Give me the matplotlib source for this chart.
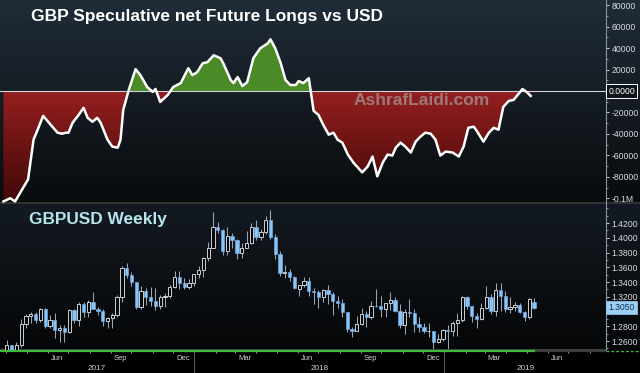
import numpy as np
import pandas as pd
import matplotlib
matplotlib.use('Agg')
import matplotlib.pyplot as plt
import matplotlib.dates as mdates
from matplotlib.path import Path
from matplotlib.colors import LinearSegmentedColormap, to_rgb
from matplotlib.ticker import FuncFormatter, MultipleLocator, FixedLocator

plt.rcParams['font.family'] = ['Liberation Sans', 'DejaVu Sans']

# CFTC GBP net speculative positions (contracts)
cot_dates = ['2017-03-28', '2017-04-07', '2017-04-14', '2017-05-03', '2017-05-11', '2017-05-17', '2017-05-25',
             '2017-06-05', '2017-06-15', '2017-06-22', '2017-06-27', '2017-07-01', '2017-07-07', '2017-07-16',
             '2017-07-23', '2017-07-29', '2017-08-05', '2017-08-12', '2017-08-17', '2017-08-27', '2017-09-03',
             '2017-09-11', '2017-09-15', '2017-09-19', '2017-09-27', '2017-10-07', '2017-10-14', '2017-10-24',
             '2017-11-01', '2017-11-05', '2017-11-12', '2017-11-23', '2017-12-01', '2017-12-12', '2017-12-23',
             '2017-12-29', '2018-01-05', '2018-01-13', '2018-01-20', '2018-01-29', '2018-02-08', '2018-02-12',
             '2018-02-23', '2018-02-27', '2018-03-05', '2018-03-12', '2018-03-19', '2018-03-28', '2018-04-07',
             '2018-04-18', '2018-04-22', '2018-04-29', '2018-05-07', '2018-05-14', '2018-05-21', '2018-05-29',
             '2018-06-02', '2018-06-09', '2018-06-17', '2018-06-24', '2018-07-01', '2018-07-08', '2018-07-16',
             '2018-07-23', '2018-07-29', '2018-08-05', '2018-08-13', '2018-08-21', '2018-09-03', '2018-09-11',
             '2018-09-18', '2018-09-25', '2018-10-03', '2018-10-10', '2018-10-17', '2018-10-22', '2018-10-29',
             '2018-11-05', '2018-11-13', '2018-11-20', '2018-11-27', '2018-12-04', '2018-12-12', '2018-12-19',
             '2018-12-26', '2019-01-03', '2019-01-13', '2019-01-22', '2019-01-29', '2019-02-05', '2019-02-13',
             '2019-02-18', '2019-02-27', '2019-03-07', '2019-03-14', '2019-03-21', '2019-03-28', '2019-04-05',
             '2019-04-12', '2019-04-18', '2019-04-25', '2019-05-01', '2019-05-07']
cot_net = [-103000, -100000, -103000, -82400, -45400, -36100, -23200, -31500, -38900, -39800,
           -38900, -38900, -29600, -22200, -15700, -25000, -28700, -25000, -29600, -45400,
           -51900, -52800, -45400, -17600, 900, 20400, 14800, 3700, -900, 1900,
           -10200, -3700, 3700, 7400, 21300, 14800, 17600, 25900, 26900, 33300,
           30600, 25900, 10200, 7400, 13000, 4600, 8300, 30600, 39800, 44400,
           48200, 39800, 25900, 10200, 5600, 5600, 9300, 7400, 12000, -18500,
           -22200, -31500, -40700, -38900, -45400, -48200, -59300, -66700, -75900, -70400,
           -61100, -79600, -66700, -59300, -60200, -52800, -48200, -51900, -57400, -47200,
           -42600, -38900, -39800, -45400, -60200, -56500, -57400, -61100, -51900, -34300,
           -33300, -38000, -47200, -38900, -34300, -36100, -14800, -9300, -8300, -3700,
           1900, -900, -4600]

# GBPUSD weekly candles, first week starting 2017-03-20
first_week = '2017-03-20'
opens = [1.2370, 1.2475, 1.2550, 1.2405, 1.2545, 1.2830, 1.2940, 1.2965, 1.2885, 1.3030,
         1.2800, 1.2890, 1.2745, 1.2780, 1.2720, 1.3025, 1.2885, 1.3100, 1.3000, 1.3135,
         1.3040, 1.3010, 1.2875, 1.2915, 1.2950, 1.3200, 1.3590, 1.3495, 1.3395, 1.3065,
         1.3275, 1.3190, 1.3140, 1.3075, 1.3190, 1.3210, 1.3330, 1.3470, 1.3385, 1.3330,
         1.3380,
         1.3510, 1.3565, 1.3725, 1.3865, 1.4150, 1.4110, 1.3820, 1.4025, 1.3970, 1.3800,
         1.3860, 1.3930, 1.4145, 1.4015, 1.4085, 1.4240, 1.4015, 1.3775, 1.3525, 1.3540,
         1.3465, 1.3300, 1.3355, 1.3410, 1.3275, 1.3265, 1.3195, 1.3285, 1.3235, 1.3140,
         1.3110, 1.2995, 1.2765, 1.2740, 1.2835, 1.2960, 1.2925, 1.3075, 1.3070, 1.3035,
         1.3110, 1.3150, 1.3005, 1.2815, 1.2995, 1.2975, 1.2830, 1.2795, 1.2730, 1.2730,
         1.2585, 1.2630, 1.2750,
         1.2740, 1.2840, 1.2885, 1.3200, 1.3075, 1.2940, 1.2895, 1.3045, 1.3195, 1.3005,
         1.3295, 1.3205, 1.3030, 1.3060, 1.3085, 1.3000, 1.2925, 1.3130]
highs = [1.2510, 1.2615, 1.2550, 1.2580, 1.2905, 1.2965, 1.2990, 1.2990, 1.3050, 1.3045,
         1.2950, 1.2975, 1.2815, 1.2815, 1.3030, 1.3030, 1.3125, 1.3125, 1.3160, 1.3270,
         1.3060, 1.3030, 1.2925, 1.2980, 1.3225, 1.3615, 1.3655, 1.3530, 1.3400, 1.3340,
         1.3315, 1.3335, 1.3320, 1.3225, 1.3255, 1.3365, 1.3550, 1.3550, 1.3455, 1.3445,
         1.3515,
         1.3615, 1.3745, 1.3945, 1.4345, 1.4220, 1.4125, 1.4145, 1.4070, 1.3980, 1.3930,
         1.4090, 1.4200, 1.4245, 1.4125, 1.4290, 1.4375, 1.4055, 1.3815, 1.3635, 1.3575,
         1.3480, 1.3365, 1.3470, 1.3470, 1.3315, 1.3295, 1.3305, 1.3365, 1.3260, 1.3215,
         1.3175, 1.3000, 1.2790, 1.2945, 1.3045, 1.3005, 1.3145, 1.3300, 1.3215, 1.3115,
         1.3260, 1.3200, 1.3105, 1.3040, 1.3175, 1.3030, 1.2930, 1.2840, 1.2840, 1.2735,
         1.2700, 1.2765, 1.2815,
         1.2865, 1.2985, 1.3215, 1.3215, 1.3080, 1.2980, 1.3110, 1.3350, 1.3235, 1.3380,
         1.3385, 1.3280, 1.3195, 1.3130, 1.3120, 1.3010, 1.3185, 1.3180]
lows = [1.2350, 1.2375, 1.2365, 1.2365, 1.2515, 1.2775, 1.2840, 1.2845, 1.2860, 1.2775,
        1.2770, 1.2635, 1.2590, 1.2590, 1.2710, 1.2850, 1.2810, 1.2930, 1.2930, 1.3030,
        1.2955, 1.2810, 1.2775, 1.2775, 1.2920, 1.3135, 1.3455, 1.3340, 1.3030, 1.3030,
        1.3090, 1.3080, 1.3020, 1.3040, 1.3065, 1.3180, 1.3315, 1.3300, 1.3300, 1.3300,
        1.3340,
        1.3455, 1.3465, 1.3690, 1.3855, 1.4065, 1.3765, 1.3770, 1.3855, 1.3710, 1.3730,
        1.3860, 1.3920, 1.3970, 1.3965, 1.4055, 1.3990, 1.3710, 1.3485, 1.3460, 1.3410,
        1.3305, 1.3205, 1.3330, 1.3205, 1.3100, 1.3050, 1.3130, 1.3105, 1.2955, 1.3050,
        1.2920, 1.2725, 1.2660, 1.2730, 1.2820, 1.2785, 1.2905, 1.3060, 1.2920, 1.2920,
        1.3015, 1.2990, 1.2775, 1.2695, 1.2920, 1.2720, 1.2720, 1.2710, 1.2660, 1.2475,
        1.2575, 1.2600, 1.2400,
        1.2670, 1.2670, 1.2855, 1.3035, 1.2855, 1.2775, 1.2890, 1.3040, 1.2960, 1.2945,
        1.3005, 1.3000, 1.2975, 1.3005, 1.2975, 1.2865, 1.2905, 1.3040]
closes = [1.2475, 1.2550, 1.2405, 1.2545, 1.2830, 1.2940, 1.2965, 1.2885, 1.3030, 1.2800,
          1.2890, 1.2745, 1.2780, 1.2720, 1.3025, 1.2885, 1.3100, 1.3000, 1.3135, 1.3040,
          1.3010, 1.2875, 1.2915, 1.2950, 1.3200, 1.3590, 1.3495, 1.3395, 1.3065, 1.3280,
          1.3190, 1.3140, 1.3075, 1.3190, 1.3210, 1.3330, 1.3470, 1.3385, 1.3330, 1.3380,
          1.3510,
          1.3565, 1.3725, 1.3865, 1.4150, 1.4110, 1.3820, 1.4025, 1.3970, 1.3800, 1.3860,
          1.3930, 1.4145, 1.4015, 1.4085, 1.4240, 1.4015, 1.3775, 1.3525, 1.3540, 1.3465,
          1.3325, 1.3355, 1.3410, 1.3275, 1.3265, 1.3195, 1.3285, 1.3235, 1.3140, 1.3110,
          1.2995, 1.2765, 1.2740, 1.2835, 1.2960, 1.2925, 1.3075, 1.3070, 1.3035, 1.3110,
          1.3150, 1.3005, 1.2815, 1.2995, 1.2975, 1.2830, 1.2795, 1.2730, 1.2735, 1.2585,
          1.2630, 1.2750, 1.2740,
          1.2840, 1.2885, 1.3200, 1.3075, 1.2940, 1.2895, 1.3045, 1.3195, 1.3005, 1.3295,
          1.3205, 1.3030, 1.3060, 1.3085, 1.3000, 1.2925, 1.3165, 1.3050]

x_start, x_end = '2017-03-23', '2019-08-25'

fig = plt.figure(figsize=(6.4, 3.73), dpi=100)


def vgrad(c0, c1, n):
    return np.linspace(to_rgb(c0), to_rgb(c1), n)


# dark terminal-style background
rows = np.vstack([vgrad('#202c38', '#090b0d', 202), vgrad('#2e3338', '#2e3338', 2),
                  vgrad('#131a21', '#050607', 146), vgrad('#000000', '#000000', 23)])
bg = fig.add_axes([0, 0, 1, 1])
bg.imshow(rows[:, None, :], aspect='auto', extent=[0, 1, 0, 1], interpolation='nearest')
bg.axis('off')

ax1 = fig.add_axes([0, 1 - 203 / 373, 606 / 640, 203 / 373], facecolor='none')
ax2 = fig.add_axes([0, 23 / 373, 606 / 640, 146 / 373], facecolor='none')

xmin = mdates.date2num(pd.Timestamp(x_start))
xmax = mdates.date2num(pd.Timestamp(x_end))

# ---- top panel: net positions
x = mdates.date2num(pd.to_datetime(cot_dates))
v = np.array(cot_net, dtype=float)
ylo, yhi = -104450, 84870

ax1.fill_between(x, v, 0, where=v > 0, interpolate=True, color='#4b8b27', lw=0, zorder=1)
neg = ax1.fill_between(x, v, 0, where=v < 0, interpolate=True, facecolor='none', edgecolor='none')
clip = Path.make_compound_path(*neg.get_paths())
reds = LinearSegmentedColormap.from_list('reds', ['#951f1f', '#400707'])
im = ax1.imshow(np.linspace(0, 1, 256).reshape(-1, 1), extent=[xmin, xmax, ylo, 0],
                aspect='auto', cmap=reds, origin='upper', zorder=1)
im.set_clip_path(clip, transform=ax1.transData)

ax1.axhline(0, color='#cfd3d6', lw=0.8, zorder=2)
ax1.plot(x, v, color='white', lw=1.8, zorder=3, solid_joinstyle='round')

ax1.set_xlim(xmin, xmax)
ax1.set_ylim(ylo, yhi)


def cot_fmt(val, pos):
    # zero sits under the last-value tag
    if abs(val) < 1:
        return ''
    if val <= -100000:
        return '-0.1M'
    return f'{val:.0f}'


def fx_fmt(val, pos):
    # 1.3000 sits under the last-price tag
    if abs(val - 1.30) < 1e-6:
        return ''
    return f'{val:.4f}'


ax1.yaxis.set_major_locator(FixedLocator(np.arange(-100000, 80001, 20000)))
ax1.yaxis.set_minor_locator(MultipleLocator(10000))
ax1.yaxis.set_major_formatter(FuncFormatter(cot_fmt))
ax1.tick_params(axis='x', which='both', bottom=False, labelbottom=False)

ax1.text(0.051, 0.921, 'GBP Speculative net Future Longs vs USD', transform=ax1.transAxes,
         fontsize=12.5, fontweight='bold', color='white', va='center', ha='left', zorder=5)
ax1.text(0.584, 0.5025, 'AshrafLaidi.com', transform=ax1.transAxes, fontsize=12.5,
         fontweight='bold', color='#a8a0a0', alpha=0.7, va='center', ha='left', zorder=4)
ax1.text(1.004, 0, '0.0000', transform=ax1.get_yaxis_transform(), ha='left', va='center',
         fontsize=6.2, color='white', zorder=6, clip_on=False,
         bbox=dict(boxstyle='square,pad=0.25', fc='#0f1418', ec='white', lw=0.7))

# ---- bottom panel: weekly candles
d = mdates.date2num(pd.date_range(first_week, periods=len(closes), freq='W-MON') + pd.Timedelta(days=6))
o = np.array(opens)
h = np.array(highs)
lo = np.array(lows)
c = np.array(closes)
up = c >= o

ax2.vlines(d, lo, h, color='#9aa6b2', lw=0.75, zorder=2)
ax2.bar(d[up], (c - o)[up], bottom=o[up], width=4.8, color='#07090b', edgecolor='#c8d0d8', lw=0.7, zorder=3)
ax2.bar(d[~up], (o - c)[~up], bottom=c[~up], width=4.8, color='#8cc4f4', edgecolor='#6aa8e2', lw=0.5, zorder=3)

ax2.set_xlim(xmin, xmax)
ax2.set_ylim(1.2478, 1.4458)
ax2.yaxis.set_major_locator(FixedLocator(np.arange(1.26, 1.4201, 0.02)))
ax2.yaxis.set_minor_locator(MultipleLocator(0.01))
ax2.yaxis.set_major_formatter(FuncFormatter(fx_fmt))

ax2.xaxis.set_major_locator(mdates.MonthLocator(bymonth=(3, 6, 9, 12), bymonthday=15))
ax2.xaxis.set_major_formatter(mdates.DateFormatter('%b'))
ax2.xaxis.set_minor_locator(mdates.MonthLocator())
ax2.tick_params(axis='x', which='major', length=0, labelsize=5.5, labelcolor='#d0d0d0', pad=3.5)
ax2.tick_params(axis='x', which='minor', length=2, width=0.6, color='#b0b0b0', direction='out')

ax2.text(0.048, 0.897, 'GBPUSD Weekly', transform=ax2.transAxes, fontsize=12.4,
         fontweight='bold', color='#b4e4ec', va='center', ha='left', zorder=5)
ax2.text(1.004, c[-1], f'{c[-1]:.4f}', transform=ax2.get_yaxis_transform(), ha='left', va='center',
         fontsize=6.2, color='#10304e', zorder=6, clip_on=False,
         bbox=dict(boxstyle='square,pad=0.25', fc='#9ccff5', ec='#9ccff5', lw=0.5))

# green time-scroll bar under the price panel
xt = ax2.get_xaxis_transform()
ax2.plot([xmin, xmax], [1 / 146, 1 / 146], transform=xt, color='#3a3f44', lw=0.8, clip_on=False)
ax2.plot([xmin, d[-1] + 2], [-1 / 146, -1 / 146], transform=xt, color='#3dbb3a', lw=1.6,
         clip_on=False, solid_capstyle='butt')
ax2.plot([d[-1] + 2, xmax], [-1 / 146, -1 / 146], transform=xt, color='#3c3c3c', lw=1.6,
         clip_on=False, solid_capstyle='butt')
ax2.plot([1.0, 640 / 606], [-1 / 146, -1 / 146], transform=ax2.transAxes, color='#3dbb3a',
         lw=1.0, ls=(0, (2, 1.5)), clip_on=False)

# year labels and separators
jan18 = mdates.date2num(pd.Timestamp('2018-01-01'))
jan19 = mdates.date2num(pd.Timestamp('2019-01-01'))
for yr, a, b in [('2017', xmin, jan18), ('2018', jan18, jan19), ('2019', jan19, xmax)]:
    ax2.text((a + b) / 2, -0.13, yr, transform=xt, ha='center', va='center',
             fontsize=5.9, color='#d0d0d0', clip_on=False)
for sep in (jan18, jan19):
    ax2.plot([sep, sep], [-0.03, -0.17], transform=xt, color='#5a5a5a', lw=0.7, clip_on=False)

for ax in (ax1, ax2):
    ax.yaxis.tick_right()
    for side in ('left', 'top', 'bottom'):
        ax.spines[side].set_visible(False)
    ax.spines['right'].set_color('#8896a4')
    ax.spines['right'].set_linewidth(0.8)
    ax.tick_params(axis='y', which='major', length=2.5, width=0.7, color='#c8d0d8',
                   labelsize=6.2, labelcolor='#d8dde2', pad=1.5)
    ax.tick_params(axis='y', which='minor', length=1.2, width=0.6, color='#a0a8b0')

fig.savefig('out.png', dpi=100, facecolor='black')
